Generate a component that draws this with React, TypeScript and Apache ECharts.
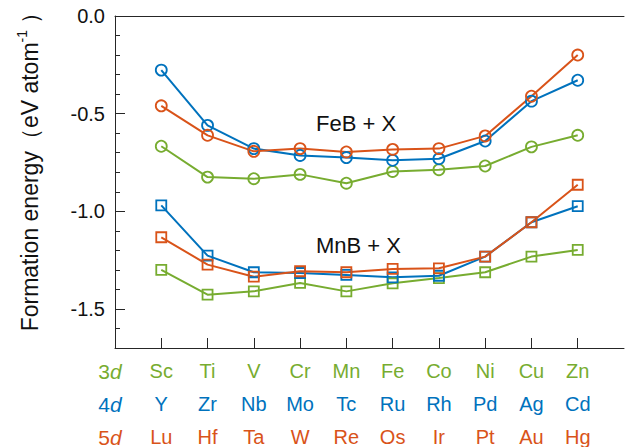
import React, { useEffect, useRef } from "react";
import * as echarts from "echarts";

const elements3d = ["Sc", "Ti", "V", "Cr", "Mn", "Fe", "Co", "Ni", "Cu", "Zn"];
const elements4d = ["Y", "Zr", "Nb", "Mo", "Tc", "Ru", "Rh", "Pd", "Ag", "Cd"];
const elements5d = ["Lu", "Hf", "Ta", "W", "Re", "Os", "Ir", "Pt", "Au", "Hg"];

const feb3d = [-0.667, -0.825, -0.833, -0.811, -0.856, -0.796, -0.787, -0.768, -0.67, -0.611];
const feb4d = [-0.277, -0.56, -0.679, -0.714, -0.725, -0.739, -0.731, -0.64, -0.436, -0.329];
const feb5d = [-0.46, -0.611, -0.693, -0.679, -0.696, -0.683, -0.679, -0.614, -0.411, -0.2];

const mnb3d = [-1.3, -1.427, -1.41, -1.367, -1.41, -1.369, -1.342, -1.312, -1.232, -1.198];
const mnb4d = [-0.97, -1.227, -1.312, -1.316, -1.326, -1.338, -1.33, -1.232, -1.056, -0.974];
const mnb5d = [-1.133, -1.273, -1.335, -1.307, -1.312, -1.295, -1.292, -1.232, -1.056, -0.864];

const majorTicks = [-1.5, -1.0, -0.5, 0];
const minorTicks = [-1.6, -1.4, -1.3, -1.2, -1.1, -0.9, -0.8, -0.7, -0.6, -0.4, -0.3, -0.2, -0.1];
const xPositions = [1, 2, 3, 4, 5, 6, 7, 8, 9, 10];

const GREEN = "#77AC30";
const BLUE = "#0072BD";
const ORANGE = "#D95319";
const AXIS = "#262626";
const FONT = "Liberation Sans, Arial, sans-serif";

function toPairs(vals: number[]) {
  return vals.map((v, i) => [xPositions[i], v]);
}

function mkSeries(name: string, vals: number[], color: string, symbol: string, size: number) {
  return {
    name,
    type: "line",
    data: toPairs(vals),
    symbol,
    symbolSize: size,
    showSymbol: true,
    lineStyle: { color, width: 2 },
    itemStyle: { color: "rgba(0,0,0,0)", borderColor: color, borderWidth: 1.8 },
    emphasis: { disabled: true },
    z: 3,
  };
}

export default function App() {
  const ref = useRef<HTMLDivElement>(null);
  useEffect(() => {
    if (!ref.current) return;
    const chart = echarts.init(ref.current, null, { renderer: "svg" });
    const option: any = {
      animation: false,
      textStyle: { fontFamily: FONT },
      grid: { left: 115, top: 16, right: 2, bottom: 99, containLabel: false },
      xAxis: [
        {
          type: "value",
          min: 0,
          max: 11,
          position: "bottom",
          axisLine: { show: true, onZero: false, lineStyle: { color: AXIS, width: 1 } },
          axisTick: { show: true, inside: true, length: 10, customValues: xPositions, lineStyle: { color: AXIS } },
          axisLabel: {
            customValues: xPositions,
            margin: 6,
            formatter: (v: number) => {
              const i = Math.round(v) - 1;
              if (i < 0 || i > 9) return "";
              return `{g|${elements3d[i]}}\n{b|${elements4d[i]}}\n{o|${elements5d[i]}}`;
            },
            rich: {
              g: { color: GREEN, fontSize: 20, lineHeight: 33, fontFamily: FONT },
              b: { color: BLUE, fontSize: 20, lineHeight: 33, fontFamily: FONT },
              o: { color: ORANGE, fontSize: 20, lineHeight: 33, fontFamily: FONT },
            },
          },
          splitLine: { show: false },
        },
        {
          type: "value",
          min: 0,
          max: 11,
          position: "top",
          axisLine: { show: true, onZero: false, lineStyle: { color: AXIS, width: 1 } },
          axisTick: { show: false },
          axisLabel: { show: false },
          splitLine: { show: false },
        },
      ],
      yAxis: [
        {
          type: "value",
          min: -1.7,
          max: 0,
          position: "left",
          axisLine: { show: true, onZero: false, lineStyle: { color: AXIS, width: 1 } },
          axisTick: { show: true, inside: true, length: 10, customValues: majorTicks, lineStyle: { color: AXIS } },
          axisLabel: {
            customValues: majorTicks,
            formatter: (v: number) => v.toFixed(1),
            fontSize: 20,
            color: "#111",
            margin: 10,
            fontFamily: FONT,
          },
          splitLine: { show: false },
        },
        {
          type: "value",
          min: -1.7,
          max: 0,
          position: "left",
          axisLine: { show: false },
          axisTick: { show: true, inside: true, length: 5, customValues: minorTicks, lineStyle: { color: AXIS } },
          axisLabel: { show: false },
          splitLine: { show: false },
        },
      ],
      series: [
        mkSeries("FeB 3d", feb3d, GREEN, "circle", 11),
        mkSeries("FeB 4d", feb4d, BLUE, "circle", 11),
        mkSeries("FeB 5d", feb5d, ORANGE, "circle", 11),
        mkSeries("MnB 3d", mnb3d, GREEN, "rect", 10),
        mkSeries("MnB 4d", mnb4d, BLUE, "rect", 10),
        mkSeries("MnB 5d", mnb5d, ORANGE, "rect", 10),
      ],
      graphic: [
        {
          type: "text",
          x: 29.5,
          y: 166,
          rotation: Math.PI / 2,
          style: {
            text: "{n|Formation energy（eV atom}{s|-1}{n| ）}",
            align: "center",
            verticalAlign: "middle",
            rich: {
              n: { fontSize: 23, fontFamily: FONT, fill: "#111", color: "#111" },
              s: { fontSize: 14, fontFamily: FONT, fill: "#111", color: "#111", verticalAlign: "bottom", padding: [0, 0, 16, 0] },
            },
          },
        },
        {
          type: "text",
          x: 316,
          y: 123,
          style: { text: "FeB + X", fontSize: 22, fontFamily: FONT, fill: "#111", align: "left", verticalAlign: "middle" },
        },
        {
          type: "text",
          x: 316,
          y: 245,
          style: { text: "MnB + X", fontSize: 22, fontFamily: FONT, fill: "#111", align: "left", verticalAlign: "middle" },
        },
        {
          type: "text",
          x: 110,
          y: 371,
          style: {
            text: "{n|3}{i|d}",
            align: "center",
            verticalAlign: "middle",
            rich: {
              n: { fontSize: 21, fontFamily: FONT, fill: GREEN, color: GREEN },
              i: { fontSize: 21, fontFamily: FONT, fontStyle: "italic", fill: GREEN, color: GREEN },
            },
          },
        },
        {
          type: "text",
          x: 110,
          y: 404,
          style: {
            text: "{n|4}{i|d}",
            align: "center",
            verticalAlign: "middle",
            rich: {
              n: { fontSize: 21, fontFamily: FONT, fill: BLUE, color: BLUE },
              i: { fontSize: 21, fontFamily: FONT, fontStyle: "italic", fill: BLUE, color: BLUE },
            },
          },
        },
        {
          type: "text",
          x: 110,
          y: 437,
          style: {
            text: "{n|5}{i|d}",
            align: "center",
            verticalAlign: "middle",
            rich: {
              n: { fontSize: 21, fontFamily: FONT, fill: ORANGE, color: ORANGE },
              i: { fontSize: 21, fontFamily: FONT, fontStyle: "italic", fill: ORANGE, color: ORANGE },
            },
          },
        },
      ],
    };
    chart.setOption(option);
    return () => chart.dispose();
  }, []);
  return <div ref={ref} style={{ width: 626, height: 447, position: "absolute", left: 0, top: 0 }} />;
}
